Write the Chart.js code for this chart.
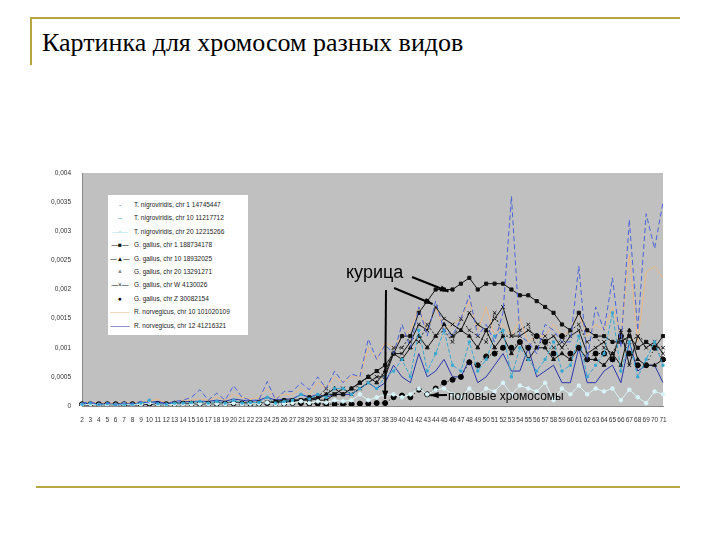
<!DOCTYPE html>
<html>
<head>
<meta charset="utf-8">
<script src="https://cdn.jsdelivr.net/npm/chart.js@4"></script>
<style>
  body { margin: 0; width: 720px; height: 540px; background: #fff; position: relative; overflow: hidden; font-family: Arial, "Liberation Sans", sans-serif; }
  .ramka { position: absolute; background: #b8a640; }
  #titulo { position: absolute; left: 42px; top: 28px; font-family: "Liberation Serif", "DejaVu Serif", serif; font-size: 26px; color: #000; }
  #caixa { position: absolute; left: 30px; top: 160px; width: 640px; height: 270px; }
  #legenda { position: absolute; left: 108px; top: 195px; width: 140px; background: #fff; font-size: 6.5px; color: #222; padding: 3px 0; }
  #legenda div { height: 13.4px; line-height: 13.4px; white-space: nowrap; }
  #legenda span.m { display: inline-block; width: 24px; text-align: center; position: relative; margin-right: 2px; }
  .nota { position: absolute; color: #000; }
</style>
</head>
<body>
<div class="ramka" style="left:30px; top:17px; width:650px; height:2px;"></div>
<div class="ramka" style="left:30px; top:17px; width:2px; height:48px;"></div>
<div class="ramka" style="left:36px; top:486px; width:644px; height:2px;"></div>
<div id="titulo">Картинка для хромосом разных видов</div>
<div id="caixa"><canvas id="grafico" width="640" height="270"></canvas></div>
<div id="legenda"></div>
<div class="nota" style="left:346px; top:262px; font-size:18px;">курица</div>
<div class="nota" style="left:448px; top:389px; font-size:12px;">половые хромосомы</div>
<script>
let hromosomy = [];
for (let c = 2; c <= 71; c++) hromosomy.push(String(c));

let metkiY = [0, 0.0005, 0.001, 0.0015, 0.002, 0.0025, 0.003, 0.0035, 0.004];

let tnChr1 = [0.00005,0.00007,0.00003,0.00005,0.00003,0.00005,0.00004,0.00008,0.00005,0.00006,0.00004,0.00008,0.0001,0.00015,
  0.00028,0.0001,0.00022,0.0001,0.00035,0.00015,0.0001,0.0001,0.00042,0.0001,0.00025,0.00025,0.0004,0.00028,0.0005,
  0.0003,0.0006,0.0004,0.00055,0.0005,0.00115,0.0008,0.00105,0.0009,0.0014,0.001,0.0017,0.0012,0.0018,0.0013,
  0.0012,0.0015,0.0019,0.0012,0.0014,0.0011,0.0016,0.0036,0.0012,0.0011,0.0009,0.0014,0.0013,0.0011,0.0011,
  0.0024,0.0008,0.0017,0.0013,0.0022,0.001,0.0032,0.0013,0.0033,0.0027,0.0035];
let tnChr10 = [0.00003,0.00005,0.00002,0.00004,0.00002,0.00003,0.00003,0.00005,0.0001,0.00004,0.00003,0.00005,0.00005,0.00006,
  0.00008,0.00005,0.00008,0.00005,0.0001,0.00005,0.00006,0.00006,0.00015,0.00005,0.00008,0.0001,0.0002,0.00012,0.0002,
  0.00015,0.0003,0.0003,0.0002,0.0003,0.0004,0.0003,0.0005,0.0006,0.0008,0.0005,0.0013,0.0006,0.0009,0.0013,
  0.0007,0.0006,0.0011,0.0006,0.0008,0.0012,0.0013,0.0005,0.001,0.0008,0.0006,0.0008,0.0011,0.0006,0.0007,
  0.0012,0.0005,0.0007,0.0009,0.0016,0.0006,0.0011,0.0005,0.0008,0.0011,0.0007];
let tnChr20 = [0.00002,0.00003,0.00002,0.00002,0.00002,0.00003,0.00002,0.00003,0.00005,0.00002,0.00002,0.00003,0.00003,0.00003,
  0.00004,0.00003,0.00004,0.00003,0.00005,0.00003,0.00004,0.00004,0.00006,0.00003,0.00004,0.00005,0.00008,0.00005,0.00008,
  0.00006,0.0001,0.00008,0.0001,0.0002,0.0001,0.00015,0.0002,0.0002,0.00015,0.0002,0.0003,0.0002,0.00028,0.0003,
  0.0002,0.00015,0.0003,0.00018,0.0003,0.00025,0.0004,0.0002,0.00035,0.0003,0.00025,0.0004,0.0001,0.0003,0.0002,
  0.00035,0.0002,0.0003,0.00025,0.0003,0.0001,0.00028,0.00015,0.00005,0.00025,0.0002];
let ggChr1 = [0.00003,0.00002,0.00003,0.00003,0.00002,0.00003,0.00002,0.00003,0.00003,0.00002,0.00003,0.00003,0.00004,0.00004,
  0.00004,0.00004,0.00005,0.00005,0.00005,0.00005,0.00006,0.00006,0.00006,0.00008,0.0001,0.0001,0.0001,0.00015,0.0001,
  0.0001,0.0002,0.0002,0.0003,0.0004,0.0005,0.0006,0.0007,0.0009,0.0012,0.0012,0.0016,0.0018,0.002,0.002,
  0.002,0.0021,0.0022,0.002,0.0021,0.0021,0.0021,0.002,0.0019,0.0019,0.0018,0.0017,0.0016,0.0014,0.0013,
  0.0016,0.0013,0.0012,0.0012,0.0011,0.0011,0.0012,0.001,0.0011,0.001,0.0012];
let ggChr10 = [0.00002,0.00003,0.00002,0.00002,0.00003,0.00002,0.00002,0.00003,0.00004,0.00002,0.00003,0.00003,0.00003,0.00004,
  0.00004,0.00003,0.00004,0.00004,0.00005,0.00004,0.00005,0.00005,0.00006,0.00006,0.00008,0.0001,0.0001,0.00012,0.00015,
  0.0002,0.0003,0.0002,0.0003,0.0004,0.0005,0.0004,0.0006,0.0009,0.0008,0.001,0.0012,0.001,0.0012,0.0014,
  0.0012,0.0013,0.0012,0.001,0.0013,0.001,0.0012,0.0009,0.0011,0.0008,0.001,0.001,0.0008,0.0009,0.0008,
  0.001,0.0008,0.0008,0.0007,0.0009,0.0007,0.0013,0.0008,0.0007,0.0007,0.0008];
let ggChr20 = [0.00003,0.00002,0.00003,0.00002,0.00003,0.00003,0.00002,0.00003,0.00003,0.00002,0.00003,0.00004,0.00003,0.00004,
  0.00004,0.00003,0.00005,0.00004,0.00005,0.00005,0.00005,0.00006,0.00006,0.00007,0.00008,0.0001,0.0001,0.00012,0.00015,
  0.0003,0.0002,0.0003,0.0002,0.0004,0.0005,0.0006,0.0005,0.001,0.001,0.0012,0.0011,0.0014,0.0012,0.0013,
  0.0011,0.0015,0.0013,0.0012,0.0011,0.0016,0.0012,0.0012,0.0013,0.0014,0.001,0.0012,0.001,0.0011,0.0013,
  0.0014,0.0011,0.0012,0.001,0.0009,0.0012,0.0011,0.0012,0.0011,0.001,0.001];
let ggChrW = [0.00002,0.00002,0.00003,0.00002,0.00002,0.00003,0.00002,0.00002,0.00003,0.00002,0.00002,0.00003,0.00003,0.00003,
  0.00003,0.00003,0.00004,0.00003,0.00004,0.00004,0.00004,0.00005,0.00005,0.00006,0.00007,0.00008,0.0001,0.0001,0.00012,
  0.0002,0.0002,0.0003,0.0002,0.0003,0.0004,0.0005,0.0005,0.0009,0.0009,0.0011,0.0014,0.0013,0.0017,0.0015,
  0.0014,0.0013,0.0016,0.0014,0.0013,0.0015,0.0017,0.0012,0.0012,0.0013,0.0012,0.0011,0.0012,0.001,0.0012,
  0.0013,0.0009,0.001,0.0011,0.0008,0.0013,0.0007,0.0012,0.001,0.0011,0.0009];
let ggChrZ = [0.00003,0.00003,0.00003,0.00003,0.00003,0.00003,0.00003,0.00003,0.00004,0.00003,0.00003,0.00004,0.00004,0.00004,
  0.00004,0.00004,0.00004,0.00004,0.00005,0.00004,0.00004,0.00004,0.00005,0.00004,0.00004,0.00005,0.00005,0.00004,0.00004,
  0.00003,0.00003,0.00003,0.00003,0.00004,0.00004,0.00005,0.00005,0.00015,0.00018,0.00015,0.00028,0.0002,0.0003,0.0004,
  0.00045,0.0005,0.00075,0.0007,0.00085,0.0009,0.001,0.001,0.0011,0.001,0.0012,0.0011,0.0009,0.0012,0.0009,
  0.001,0.0008,0.0009,0.0009,0.0008,0.0012,0.0009,0.0007,0.0007,0.001,0.0008];
let rnChr10 = [0.00005,0.00007,0.00005,0.00005,0.00005,0.00006,0.00005,0.00008,0.00008,0.00012,0.00005,0.00008,0.0001,0.0001,
  0.00012,0.0001,0.00015,0.0001,0.0002,0.00015,0.00012,0.00015,0.0003,0.00015,0.0002,0.0002,0.0003,0.0002,0.0004,
  0.0003,0.0005,0.0004,0.0005,0.0005,0.001,0.0008,0.0011,0.001,0.0012,0.0013,0.0017,0.0013,0.0017,0.0013,
  0.0014,0.0015,0.0018,0.0013,0.0017,0.0012,0.0014,0.0012,0.0015,0.0011,0.0012,0.0012,0.0014,0.0012,0.0013,
  0.0016,0.0012,0.0014,0.0013,0.0017,0.0012,0.0026,0.0011,0.0023,0.0024,0.0022];
let rnChr12 = [0.00004,0.00005,0.00004,0.00004,0.00004,0.00005,0.00004,0.00006,0.00006,0.00008,0.00004,0.00006,0.00007,0.00008,
  0.00008,0.00008,0.0001,0.00008,0.00012,0.0001,0.00008,0.0001,0.00015,0.0001,0.00012,0.00012,0.0002,0.00015,0.0002,
  0.00015,0.0002,0.0002,0.0002,0.0003,0.0004,0.0003,0.0004,0.0007,0.0005,0.0004,0.0009,0.0005,0.0006,0.0008,
  0.0005,0.0005,0.0008,0.0004,0.0005,0.0007,0.0009,0.0006,0.0006,0.001,0.0005,0.0006,0.0007,0.0004,0.0004,
  0.001,0.0004,0.0004,0.0006,0.0007,0.0004,0.0011,0.0006,0.0007,0.0007,0.0004];

let nazvaniya = [
  "T. nigroviridis, chr 1 14745447", "T. nigroviridis, chr 10 11217712", "T. nigroviridis, chr 20 12215266",
  "G. gallus, chr 1 188734178", "G. gallus, chr 10 18932025", "G. gallus, chr 20 13291271",
  "G. gallus, chr W 4130026", "G. gallus, chr Z 30082154", "R. norvegicus, chr 10 101020109",
  "R. norvegicus, chr 12 41216321"
];
let ryady = [tnChr1, tnChr10, tnChr20, ggChr1, ggChr10, ggChr20, ggChrW, ggChrZ, rnChr10, rnChr12];
let stili = [
  { cor: "#4a64d8", traco: [5, 3], ponto: "line", raio: 0, leg: "-" },
  { cor: "#3aa8d0", traco: [4, 2], ponto: "rect", raio: 1.5, leg: "–" },
  { cor: "#d8f4f8", traco: [], ponto: "circle", raio: 1.8, leg: "—•—" },
  { cor: "#111", traco: [], ponto: "rect", raio: 2.2, leg: "—■—" },
  { cor: "#111", traco: [], ponto: "triangle", raio: 2.2, leg: "—▲—" },
  { cor: "#222", traco: [2, 2], ponto: "crossRot", raio: 2.5, leg: "×" },
  { cor: "#111", traco: [], ponto: "crossRot", raio: 2.5, leg: "—×—" },
  { cor: "#000", traco: [1, 3], ponto: "circle", raio: 2.5, leg: "●" },
  { cor: "#e8b888", traco: [], ponto: "circle", raio: 0, leg: "———" },
  { cor: "#2a36a8", traco: [], ponto: "circle", raio: 0, leg: "———" }
];

let leg = document.getElementById("legenda");
nazvaniya.forEach((n, i) => {
  let d = document.createElement("div");
  d.innerHTML = `<span class="m" style="color:${stili[i].cor === '#d8f4f8' ? '#a8e0ea' : stili[i].cor}">${stili[i].leg}</span>${n}`;
  leg.appendChild(d);
});

let fundoCinza = {
  id: "fundoCinza",
  beforeDraw(chart) {
    let a = chart.chartArea, ctx = chart.ctx;
    ctx.save();
    ctx.fillStyle = "#c0c0c0";
    ctx.fillRect(a.left, a.top, a.right - a.left, a.bottom - a.top);
    ctx.restore();
  }
};

// стрелки от подписей к точкам
function seta(ctx, x1, y1, x2, y2) {
  let ang = Math.atan2(y2 - y1, x2 - x1);
  ctx.beginPath(); ctx.moveTo(x1, y1); ctx.lineTo(x2, y2); ctx.stroke();
  ctx.beginPath();
  ctx.moveTo(x2, y2);
  ctx.lineTo(x2 - 9 * Math.cos(ang - 0.35), y2 - 9 * Math.sin(ang - 0.35));
  ctx.lineTo(x2 - 9 * Math.cos(ang + 0.35), y2 - 9 * Math.sin(ang + 0.35));
  ctx.closePath(); ctx.fill();
}
let setas = {
  id: "setas",
  afterDatasetsDraw(chart) {
    let ctx = chart.ctx, x = chart.scales.x, y = chart.scales.y;
    let px = (c) => x.getPixelForValue(c - 2);
    ctx.save();
    ctx.strokeStyle = "#000"; ctx.fillStyle = "#000"; ctx.lineWidth = 2;
    seta(ctx, 382, 117, px(46) - 4, y.getPixelForValue(ggChr1[44]) + 2);
    seta(ctx, 364, 128, px(44) - 3, y.getPixelForValue(ggChrW[42]) - 3);
    seta(ctx, 356, 130, px(38), y.getPixelForValue(ggChrZ[36]) - 4);
    seta(ctx, 417, 235, px(43) + 3, y.getPixelForValue(ggChrZ[41]) + 1);
    ctx.restore();
  }
};

new Chart(document.getElementById("grafico"), {
  type: "line",
  data: {
    labels: hromosomy,
    datasets: ryady.map((r, i) => ({
      label: nazvaniya[i],
      data: r,
      borderColor: stili[i].cor,
      backgroundColor: stili[i].cor,
      borderDash: stili[i].traco,
      borderWidth: 1,
      pointStyle: stili[i].ponto,
      pointRadius: stili[i].raio,
      pointBorderWidth: 1,
      tension: 0
    }))
  },
  options: {
    responsive: false,
    animation: false,
    layout: { padding: { top: 13, right: 7 } },
    plugins: { legend: { display: false }, tooltip: { enabled: false } },
    scales: {
      x: {
        grid: { display: false },
        border: { color: "#888" },
        ticks: { autoSkip: false, maxRotation: 0, minRotation: 0, font: { size: 6.5 }, color: "#333", padding: 2 },
        afterFit(s) { s.height = 24; }
      },
      y: {
        min: 0, max: 0.004,
        afterBuildTicks(s) { s.ticks = metkiY.map(v => ({ value: v })); },
        grid: { display: false },
        border: { color: "#888" },
        ticks: {
          font: { size: 6.5 }, color: "#333",
          callback: v => String(v).replace(".", ",")
        },
        afterFit(s) { s.width = 52; }
      }
    }
  },
  plugins: [fundoCinza, setas]
});
</script>
</body>
</html>
